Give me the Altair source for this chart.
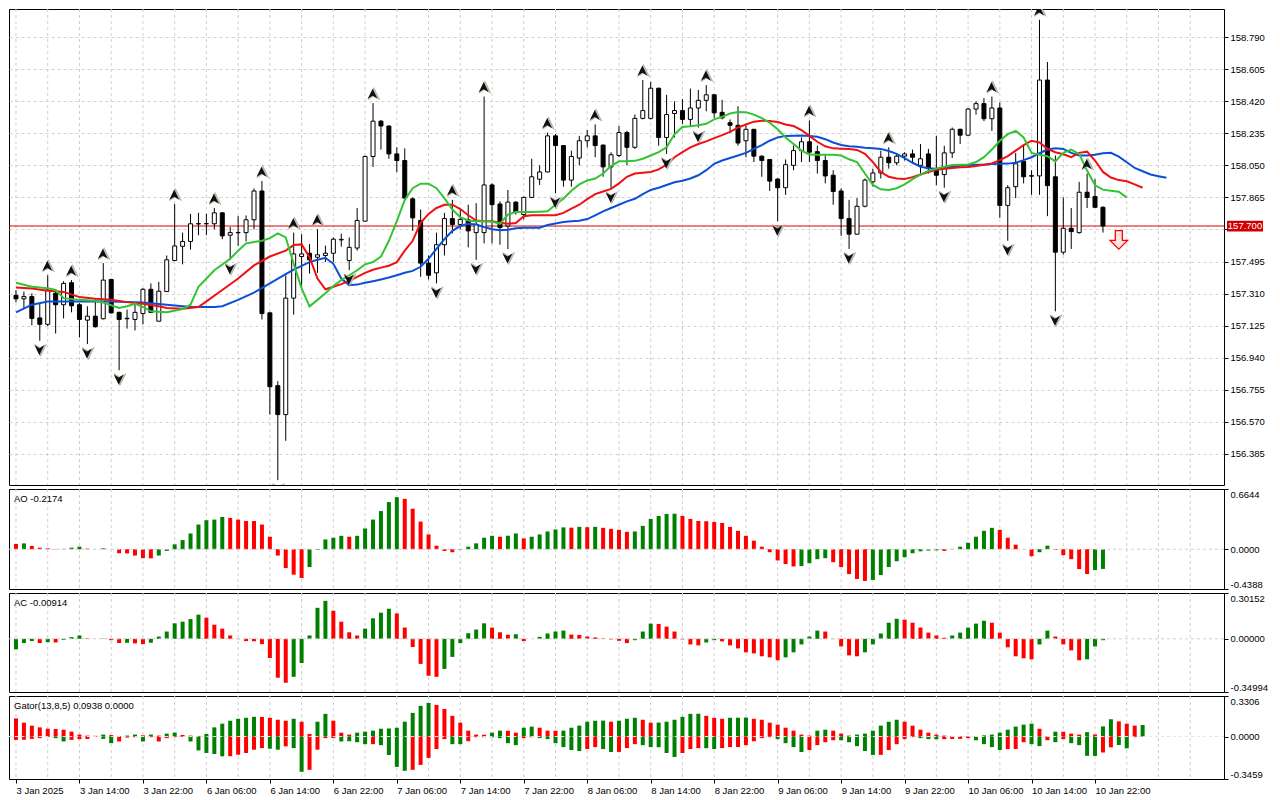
import json
import altair as alt
import pandas as pd

# ---------------- data (H1 bars, 3 Jan 06:00 .. 10 Jan 23:00) ----------------
OPEN = [157.300, 157.280, 157.293, 157.170, 157.133, 157.312, 157.246, 157.373, 157.246, 157.157,
        157.180, 157.165, 157.392, 157.202, 157.165, 157.161, 157.195, 157.335, 157.151, 157.322,
        157.501, 157.583, 157.611, 157.712, 157.713, 157.713, 157.776, 157.647, 157.661, 157.662,
        157.736, 157.902, 157.199, 156.779, 156.612, 157.284, 157.524, 157.543, 157.520, 157.530,
        157.543, 157.620, 157.501, 157.573, 157.728, 158.101, 158.305, 158.277, 158.116, 158.078,
        157.857, 157.732, 157.486, 157.430, 157.592, 157.743, 157.709, 157.736, 157.662, 157.662,
        157.937, 157.827, 157.700, 157.838, 157.766, 157.865, 157.970, 158.012, 158.220, 158.164,
        157.965, 158.092, 158.192, 158.220, 158.167, 158.041, 158.107, 158.239, 158.154, 158.321,
        158.321, 158.495, 158.211, 158.349, 158.366, 158.315, 158.381, 158.425, 158.457, 158.356,
        158.296, 158.281, 158.192, 158.258, 158.103, 158.084, 157.971, 157.921, 158.050, 158.135,
        158.186, 158.129, 158.078, 157.993, 157.902, 157.743, 157.653, 157.814, 157.955, 158.006,
        158.097, 158.065, 158.103, 158.116, 158.050, 158.116, 158.031, 157.997, 158.122, 158.258,
        158.224, 158.375, 158.406, 158.319, 158.381, 157.819, 157.927, 158.073, 157.990, 157.989,
        158.542, 157.984, 157.549, 157.687, 157.662, 157.895, 157.870, 157.808]
HIGH = [157.330, 157.322, 157.312, 157.255, 157.416, 157.331, 157.382, 157.388, 157.255, 157.237,
        157.284, 157.486, 157.395, 157.206, 157.218, 157.255, 157.342, 157.369, 157.378, 157.530,
        157.827, 157.662, 157.770, 157.776, 157.770, 157.804, 157.781, 157.694, 157.757, 157.761,
        157.917, 157.959, 157.205, 156.805, 157.416, 157.662, 157.653, 157.596, 157.681, 157.587,
        157.634, 157.656, 157.634, 157.804, 158.107, 158.409, 158.311, 158.281, 158.154, 158.148,
        157.865, 157.795, 157.530, 157.662, 157.776, 157.851, 157.795, 157.823, 157.832, 158.447,
        157.946, 157.842, 157.908, 157.842, 157.870, 158.088, 158.050, 158.239, 158.230, 158.166,
        158.135, 158.220, 158.254, 158.286, 158.170, 158.126, 158.277, 158.249, 158.343, 158.542,
        158.532, 158.498, 158.457, 158.419, 158.432, 158.493, 158.485, 158.513, 158.460, 158.428,
        158.315, 158.391, 158.281, 158.260, 158.107, 158.086, 157.975, 158.084, 158.164, 158.211,
        158.309, 158.164, 158.107, 158.022, 157.918, 157.851, 157.861, 157.974, 158.031, 158.135,
        158.154, 158.116, 158.126, 158.141, 158.173, 158.145, 158.220, 158.163, 158.268, 158.262,
        158.381, 158.419, 158.438, 158.447, 158.413, 157.936, 158.122, 158.164, 158.022, 158.890,
        158.646, 158.107, 157.865, 157.804, 157.955, 158.003, 157.971, 157.814]
LOW = [157.260, 157.227, 157.127, 157.038, 157.123, 157.080, 157.167, 157.202, 157.057, 157.019,
       157.114, 157.161, 157.195, 156.868, 157.108, 157.098, 157.132, 157.198, 157.151, 157.322,
       157.498, 157.479, 157.564, 157.647, 157.647, 157.681, 157.624, 157.505, 157.586, 157.611,
       157.681, 157.161, 156.612, 156.234, 156.461, 157.189, 157.350, 157.426, 157.430, 157.492,
       157.492, 157.581, 157.445, 157.558, 157.728, 158.041, 158.141, 158.088, 158.012, 157.857,
       157.672, 157.407, 157.392, 157.369, 157.530, 157.657, 157.681, 157.577, 157.505, 157.600,
       157.600, 157.592, 157.567, 157.766, 157.738, 157.861, 157.937, 158.010, 157.889, 157.927,
       157.927, 158.050, 158.154, 158.097, 157.984, 157.918, 158.097, 158.050, 158.145, 158.315,
       158.315, 158.164, 158.116, 158.211, 158.290, 158.277, 158.268, 158.362, 158.324, 158.315,
       158.239, 158.164, 158.097, 158.069, 157.984, 157.902, 157.728, 157.880, 158.022, 158.069,
       158.069, 158.003, 157.946, 157.823, 157.643, 157.568, 157.653, 157.808, 157.927, 157.974,
       158.031, 158.050, 158.078, 158.059, 158.003, 158.003, 157.936, 157.921, 158.092, 158.173,
       158.222, 158.343, 158.305, 158.249, 157.747, 157.615, 157.861, 157.946, 157.880, 157.880,
       157.757, 157.208, 157.535, 157.568, 157.656, 157.804, 157.804, 157.662]
CLOSE = [157.280, 157.293, 157.167, 157.133, 157.331, 157.246, 157.369, 157.240, 157.161, 157.180,
         157.119, 157.388, 157.199, 157.161, 157.168, 157.202, 157.335, 157.202, 157.324, 157.505,
         157.585, 157.611, 157.713, 157.714, 157.714, 157.776, 157.643, 157.662, 157.663, 157.736,
         157.902, 157.195, 156.773, 156.612, 157.284, 157.539, 157.539, 157.505, 157.534, 157.543,
         157.624, 157.623, 157.577, 157.732, 158.101, 158.305, 158.277, 158.116, 158.078, 157.861,
         157.747, 157.486, 157.416, 157.592, 157.743, 157.709, 157.738, 157.672, 157.709, 157.937,
         157.823, 157.691, 157.838, 157.781, 157.865, 157.984, 158.012, 158.220, 158.164, 157.965,
         158.101, 158.192, 158.220, 158.164, 158.041, 158.111, 158.239, 158.154, 158.321, 158.366,
         158.495, 158.211, 158.343, 158.366, 158.315, 158.381, 158.425, 158.457, 158.353, 158.324,
         158.281, 158.179, 158.258, 158.103, 158.078, 157.959, 157.921, 158.054, 158.135, 158.186,
         158.126, 158.078, 157.989, 157.899, 157.743, 157.653, 157.814, 157.965, 158.006, 158.097,
         158.065, 158.103, 158.116, 158.097, 158.088, 158.031, 157.993, 158.122, 158.258, 158.224,
         158.375, 158.406, 158.319, 158.381, 157.819, 157.921, 158.059, 157.984, 157.988, 158.542,
         157.933, 157.549, 157.687, 157.668, 157.895, 157.865, 157.808, 157.700]

# Alligator (bar index, value) - jaw shifted 8, teeth 5, lips 3 bars forward
JAW_X = [0, 2, 4, 8, 12, 16, 19, 22, 25, 26, 28, 30, 32, 34, 35, 36, 37, 38, 39, 40, 41, 42, 43, 44,
         45, 46, 47, 48, 49, 50, 51, 52, 53, 54, 55, 56, 57, 58, 59, 60, 61, 62, 63, 64, 66, 67, 68,
         69, 70, 71] + list(range(72, 146))
JAW_Y = [157.202, 157.246, 157.265, 157.265, 157.265, 157.259, 157.246, 157.233, 157.233, 157.237,
         157.274, 157.316, 157.369, 157.422, 157.448, 157.470, 157.492, 157.505, 157.517, 157.482,
         157.397, 157.359, 157.362, 157.373, 157.382, 157.392, 157.403, 157.416, 157.430, 157.441,
         157.465, 157.511, 157.568, 157.624, 157.672, 157.700, 157.713, 157.709, 157.694, 157.681,
         157.675, 157.679, 157.687, 157.690, 157.690, 157.706, 157.715, 157.723, 157.727, 157.730,
         157.740, 157.762, 157.785, 157.804, 157.823, 157.842, 157.857, 157.884, 157.908, 157.921,
         157.937, 157.952, 157.961, 157.974, 157.993, 158.022, 158.059, 158.078, 158.092, 158.107,
         158.122, 158.145, 158.167, 158.192, 158.211, 158.220, 158.221, 158.222, 158.220, 158.215,
         158.201, 158.182, 158.167, 158.160, 158.157, 158.152, 158.149, 158.145, 158.133, 158.116,
         158.092, 158.065, 158.042, 158.033, 158.031, 158.035, 158.042, 158.048, 158.051, 158.054,
         158.054, 158.058, 158.059, 158.060, 158.065, 158.080, 158.097, 158.120, 158.141, 158.148,
         158.145, 158.122, 158.107, 158.107, 158.111, 158.120, 158.122, 158.100, 158.068, 158.035,
         158.016, 157.997, 157.987, 157.978]
TEETH_X = [0, 2, 4, 6, 8, 10, 12, 14, 16, 18, 19, 21, 23, 24, 26, 28, 30, 32, 34, 35, 36, 37, 38,
           39, 40, 41, 42, 43, 44, 45, 46, 47, 48, 49, 50, 51, 52, 53, 54, 55, 56, 57, 58, 59, 60,
           61, 62, 63, 64, 65, 67, 68, 69, 70, 71] + list(range(72, 143))
TEETH_Y = [157.346, 157.339, 157.327, 157.320, 157.290, 157.280, 157.274, 157.261, 157.252, 157.237,
           157.227, 157.223, 157.233, 157.265, 157.331, 157.397, 157.473, 157.524, 157.558, 157.590,
           157.594, 157.520, 157.397, 157.335, 157.350, 157.365, 157.384, 157.407, 157.430, 157.448,
           157.460, 157.471, 157.492, 157.558, 157.615, 157.719, 157.770, 157.804, 157.823, 157.823,
           157.798, 157.762, 157.732, 157.728, 157.728, 157.719, 157.713, 157.717, 157.757, 157.762,
           157.762, 157.762, 157.776, 157.800, 157.823,
           157.855, 157.884, 157.899, 157.914, 157.946, 157.984, 158.003, 158.008, 158.012, 158.027,
           158.054, 158.097, 158.126, 158.154, 158.173, 158.188, 158.207, 158.224, 158.243, 158.268,
           158.286, 158.302, 158.307, 158.306, 158.300, 158.286, 158.277, 158.254, 158.220, 158.186,
           158.160, 158.148, 158.146, 158.144, 158.139, 158.116, 158.069, 158.012, 157.984, 157.974,
           157.972, 157.982, 157.997, 158.012, 158.024, 158.031, 158.035, 158.039, 158.041, 158.046,
           158.054, 158.061, 158.080, 158.103, 158.135, 158.167, 158.192, 158.182, 158.145, 158.126,
           158.114, 158.097, 158.122, 158.129, 158.078, 158.012, 157.980, 157.965, 157.958, 157.940,
           157.921]
LIPS_X = [0, 2, 4, 5, 6, 8, 10, 11, 13, 14, 15, 16, 17, 19, 21, 22, 23, 25, 27, 28, 29, 31, 32, 33,
          34, 35, 36, 37] + list(range(38, 141))
LIPS_Y = [157.373, 157.350, 157.341, 157.331, 157.284, 157.274, 157.269, 157.259, 157.227, 157.237,
          157.252, 157.233, 157.208, 157.202, 157.221, 157.246, 157.350, 157.445, 157.511, 157.558,
          157.600, 157.615, 157.630, 157.657, 157.634, 157.482, 157.340, 157.237,
          157.274, 157.312, 157.354, 157.388, 157.416, 157.445, 157.479, 157.492, 157.524, 157.615,
          157.728, 157.851, 157.918, 157.944, 157.944, 157.918, 157.861, 157.795, 157.751, 157.732,
          157.728, 157.728, 157.726, 157.713, 157.766, 157.781, 157.781, 157.781, 157.783, 157.785,
          157.823, 157.857, 157.903, 157.940, 157.963, 157.974, 158.003, 158.046, 158.073, 158.073,
          158.076, 158.088, 158.107, 158.126, 158.154, 158.230, 158.271, 158.275, 158.281, 158.290,
          158.315, 158.330, 158.349, 158.358, 158.357, 158.343, 158.322, 158.296, 158.258, 158.211,
          158.173, 158.135, 158.112, 158.111, 158.111, 158.111, 158.107, 158.085, 158.069, 158.003,
          157.937, 157.912, 157.908, 157.918, 157.940, 157.971, 157.997, 158.018, 158.031, 158.042,
          158.052, 158.054, 158.055, 158.069, 158.097, 158.141, 158.192, 158.230, 158.249, 158.211,
          158.122, 158.111, 158.103, 158.073, 158.122, 158.141, 158.116, 158.020, 157.935, 157.910,
          157.904, 157.898, 157.864]

FRACTAL_UP = [4, 7, 11, 20, 25, 31, 35, 38, 45, 55, 59, 67, 73, 79, 87, 100, 110, 123, 129, 135]
FRACTAL_DN = [3, 9, 13, 27, 33, 42, 53, 58, 62, 68, 75, 82, 86, 96, 105, 117, 125, 131]
SIGNAL_DN_X = [139]
SIGNAL_DN_Y = [157.620]

AO = [0.058, 0.064, 0.036, 0.017, 0.010, 0.003, 0.004, 0.017, 0.028, 0.007,
      0.001, 0.010, -0.001, -0.044, -0.046, -0.070, -0.099, -0.101, -0.070, -0.019,
      0.054, 0.101, 0.174, 0.272, 0.320, 0.327, 0.356, 0.345, 0.327, 0.312,
      0.311, 0.272, 0.138, -0.070, -0.208, -0.281, -0.317, -0.197, -0.008, 0.108,
      0.127, 0.148, 0.138, 0.148, 0.229, 0.327, 0.421, 0.520, 0.574, 0.556,
      0.447, 0.305, 0.163, 0.039, -0.019, -0.033, -0.008, 0.028, 0.065, 0.127,
      0.148, 0.138, 0.149, 0.174, 0.119, 0.138, 0.163, 0.196, 0.218, 0.241,
      0.238, 0.247, 0.243, 0.247, 0.236, 0.225, 0.214, 0.192, 0.196, 0.258,
      0.334, 0.367, 0.389, 0.392, 0.367, 0.334, 0.312, 0.309, 0.301, 0.290,
      0.247, 0.203, 0.148, 0.094, 0.028, -0.033, -0.124, -0.164, -0.190, -0.186,
      -0.154, -0.110, -0.099, -0.143, -0.197, -0.274, -0.328, -0.350, -0.339, -0.285,
      -0.197, -0.132, -0.088, -0.044, -0.023, -0.015, -0.012, -0.019, -0.004, 0.028,
      0.072, 0.138, 0.203, 0.236, 0.214, 0.127, 0.050, -0.001, -0.077, -0.033,
      0.039, -0.008, -0.066, -0.110, -0.219, -0.274, -0.230, -0.2174]
AO_FIRST = "r"
AC = [-0.069, -0.028, -0.015, -0.028, -0.022, -0.024, -0.007, 0.011, 0.022, 0.004,
      0.000, 0.002, -0.009, -0.028, -0.026, -0.030, -0.035, -0.026, 0.015, 0.048,
      0.102, 0.113, 0.130, 0.159, 0.139, 0.093, 0.067, 0.022, -0.002, -0.015,
      -0.016, -0.035, -0.126, -0.256, -0.289, -0.250, -0.159, 0.022, 0.204, 0.250,
      0.185, 0.113, 0.043, 0.022, 0.067, 0.135, 0.172, 0.198, 0.167, 0.074,
      -0.054, -0.165, -0.243, -0.250, -0.198, -0.119, -0.028, 0.037, 0.061, 0.102,
      0.074, 0.043, 0.027, 0.030, -0.015, 0.000, 0.013, 0.035, 0.048, 0.054,
      0.028, 0.026, 0.015, 0.009, 0.003, -0.004, -0.013, -0.028, -0.009, 0.048,
      0.100, 0.098, 0.080, 0.048, -0.004, -0.037, -0.043, -0.024, -0.009, -0.017,
      -0.043, -0.063, -0.089, -0.096, -0.115, -0.122, -0.141, -0.122, -0.089, -0.037,
      0.015, 0.054, 0.048, -0.002, -0.050, -0.109, -0.115, -0.089, -0.037, 0.035,
      0.106, 0.132, 0.126, 0.106, 0.074, 0.041, 0.022, 0.007, 0.022, 0.041,
      0.074, 0.100, 0.119, 0.106, 0.041, -0.056, -0.115, -0.128, -0.135, -0.037,
      0.054, 0.015, -0.037, -0.076, -0.141, -0.135, -0.050, -0.00914]
AC_FIRST = "g"
GATOR_UP = [0.148, 0.113, 0.089, 0.075, 0.064, 0.062, 0.056, 0.040, 0.016, 0.008,
            0.006, 0.016, 0.012, 0.005, 0.008, 0.016, 0.010, 0.016, 0.008, 0.024,
            0.032, 0.013, 0.008, 0.005, 0.021, 0.075, 0.105, 0.129, 0.145, 0.153,
            0.161, 0.160, 0.153, 0.137, 0.129, 0.145, 0.121, 0.021, 0.121, 0.185,
            0.129, 0.032, 0.016, 0.032, 0.040, 0.048, 0.064, 0.066, 0.072, 0.121,
            0.193, 0.250, 0.274, 0.258, 0.225, 0.169, 0.113, 0.048, 0.016, 0.015,
            0.032, 0.048, 0.047, 0.032, 0.072, 0.081, 0.072, 0.048, 0.047, 0.048,
            0.072, 0.089, 0.121, 0.129, 0.130, 0.121, 0.129, 0.145, 0.153, 0.137,
            0.113, 0.114, 0.121, 0.137, 0.161, 0.185, 0.186, 0.169, 0.153, 0.145,
            0.153, 0.154, 0.155, 0.145, 0.137, 0.113, 0.097, 0.072, 0.048, 0.016,
            0.008, 0.048, 0.056, 0.048, 0.024, 0.008, 0.016, 0.024, 0.048, 0.089,
            0.121, 0.137, 0.121, 0.089, 0.056, 0.032, 0.016, 0.008, 0.003, 0.002,
            0.001, 0.002, 0.010, 0.016, 0.032, 0.056, 0.081, 0.097, 0.105, 0.064,
            0.002, 0.040, 0.039, 0.024, 0.016, 0.036, 0.017, 0.083, 0.141, 0.124,
            0.105, 0.089, 0.0938]
GATOR_DN = [-0.027, -0.026, -0.019, -0.013, -0.004, -0.013, -0.040, -0.027, -0.021, -0.020,
            -0.002, -0.019, -0.054, -0.040, -0.008, -0.005, -0.040, -0.005, -0.040, -0.013,
            -0.005, -0.003, -0.040, -0.113, -0.134, -0.142, -0.161, -0.160, -0.148, -0.134,
            -0.107, -0.094, -0.099, -0.107, -0.080, -0.094, -0.287, -0.271, -0.107, -0.013,
            -0.012, -0.040, -0.038, -0.046, -0.062, -0.062, -0.070, -0.150, -0.247, -0.279,
            -0.271, -0.231, -0.174, -0.102, -0.021, -0.062, -0.062, -0.038, -0.005, -0.005,
            -0.006, -0.013, -0.054, -0.070, -0.013, -0.005, -0.013, -0.021, -0.054, -0.086,
            -0.110, -0.118, -0.102, -0.086, -0.102, -0.126, -0.125, -0.094, -0.062, -0.070,
            -0.086, -0.087, -0.134, -0.166, -0.134, -0.102, -0.094, -0.095, -0.102, -0.094,
            -0.086, -0.085, -0.070, -0.038, -0.013, -0.005, -0.021, -0.054, -0.086, -0.126,
            -0.110, -0.070, -0.046, -0.030, -0.030, -0.046, -0.078, -0.118, -0.150, -0.149,
            -0.110, -0.062, -0.021, -0.005, -0.013, -0.021, -0.022, -0.021, -0.020, -0.019,
            -0.013, -0.030, -0.062, -0.086, -0.110, -0.102, -0.101, -0.046, -0.062, -0.078,
            -0.030, -0.046, -0.021, -0.054, -0.070, -0.157, -0.158, -0.130, -0.088, -0.069,
            -0.096, -0.005, 0.0]
GATOR_UP_COL = ("rrrrrrrrrr" "rgrrggrgrg" "grrrgggggg" "grrrrgrrgg" "rrrggggggg" "gggrrrrrrr"
                "ggrrggrrrg" "gggggrgggr" "rggggggrrr" "gggrrrrrrr" "rggrrrgggg" "ggrrrrrrrr"
                "rggggggggr" "rgrrrgrggr" "rrg")
GATOR_DN_COL = ("rrrrgggrrr" "rggrrrgrrr" "rrgggggrrr" "rrggrggrrr" "rggggrgggg" "rrrrrggrrr"
                "ggggrrgggg" "ggrrggrrrg" "ggggrrrggr" "rrrrrrgggg" "rrrrgggggr" "rrrrgggrrr"
                "rggggrrrgg" "rgrggggrrg" "grr")

PRICE_TICKS = [156.385, 156.570, 156.755, 156.940, 157.125, 157.310, 157.495, 157.680,
               157.865, 158.050, 158.235, 158.420, 158.605, 158.790]
PRICE_DOMAIN = [156.206, 158.952]
AO_DOMAIN = [-0.4388, 0.6644]
AC_DOMAIN = [-0.34994, 0.30152]
GATOR_DOMAIN = [-0.3459, 0.3306]
TIME_LABELS = ["3 Jan 2025", "3 Jan 14:00", "3 Jan 22:00", "6 Jan 06:00", "6 Jan 14:00",
               "6 Jan 22:00", "7 Jan 06:00", "7 Jan 14:00", "7 Jan 22:00", "8 Jan 06:00",
               "8 Jan 14:00", "8 Jan 22:00", "9 Jan 06:00", "9 Jan 14:00", "9 Jan 22:00",
               "10 Jan 06:00", "10 Jan 14:00", "10 Jan 22:00"]

# ---------------- styling / layout ----------------
W = 1215
H_MAIN, H_AO, H_AC, H_GT = 476, 100, 99, 83
FONT = "Liberation Sans"
FS = 9.5
GRID = "#d0d0d0"
GREEN = "#008000"
RED = "#ff0000"
CMAP = {"g": GREEN, "r": RED}

X0 = -0.25
X1 = X0 + W / 8.0
XS = alt.Scale(domain=[X0, X1], nice=False, zero=False)
grid_df = pd.DataFrame({"i": list(range(0, int(X1) + 1, 4))})
MINUS_FIX = "replace(datum.label, '\u2212', '-')"


def xq(axis=None):
    return alt.X("i:Q", scale=XS, axis=axis, title=None)


def vgrid(axis=None):
    return alt.Chart(grid_df).mark_rule(color=GRID, strokeDash=[3, 3], strokeWidth=1).encode(x=xq(axis))


def right_axis(values, fmt, flush=False, grid=False, label_expr=MINUS_FIX):
    return alt.Axis(orient="right", values=values, format=fmt, labelExpr=label_expr,
                    labelFlush=flush, grid=grid, gridColor=GRID, gridDash=[3, 3],
                    domain=False, ticks=True, tickSize=4, tickColor="black",
                    labelColor="black", labelFont=FONT, labelFontSize=FS, labelPadding=2,
                    title=None)


TIME_TICKS = [8 * k for k in range(len(TIME_LABELS))]
AXT = alt.Axis(orient="bottom", values=TIME_TICKS,
               labelExpr=json.dumps(TIME_LABELS) + "[round(datum.value / 8)]",
               labelAlign="left", labelBaseline="top", labelPadding=2, tickSize=4,
               tickColor="black", domain=False, grid=False, labelFont=FONT,
               labelFontSize=FS, labelColor="black", labelOverlap=False, labelFlush=False,
               title=None)

# ---------------- main price panel ----------------
YM = alt.Scale(domain=PRICE_DOMAIN, nice=False, zero=False)
# the tick label hidden behind the last-price box is left blank (tick and grid stay)
AXM = right_axis(PRICE_TICKS, ".3f", grid=True,
                 label_expr=f"abs(datum.value - {CLOSE[-1]}) < 0.03 ? '' : datum.label")


def ym(field):
    return alt.Y(field, scale=YM, axis=AXM, title=None)


n = len(CLOSE)
candles = pd.DataFrame({"i": list(range(n)), "o": OPEN, "h": HIGH, "l": LOW, "c": CLOSE})
candles["fill"] = ["#ffffff" if c >= o else "#000000" for o, c in zip(OPEN, CLOSE)]

wicks = alt.Chart(candles).mark_rule(color="black", strokeWidth=1).encode(
    x=xq(), y=ym("l:Q"), y2="h:Q")
bodies = alt.Chart(candles).mark_bar(size=4, stroke="black", strokeWidth=1).encode(
    x=xq(), y=ym("o:Q"), y2="c:Q", fill=alt.Fill("fill:N", scale=None))


def aline(xs, ys, color):
    df = pd.DataFrame({"i": xs, "v": ys})
    return alt.Chart(df).mark_line(color=color, strokeWidth=2, clip=True).encode(x=xq(), y=ym("v:Q"))


jaw = aline(JAW_X, JAW_Y, "#0b4fd8")
teeth = aline(TEETH_X, TEETH_Y, "#f01010")
lips = aline(LIPS_X, LIPS_Y, "#33c433")

UP_PATH = "M0,-1L0.9,0.85L0,0.3L-0.9,0.85Z"
DN_PATH = "M0,1L0.9,-0.85L0,-0.3L-0.9,-0.85Z"
fu_df = pd.DataFrame({"i": FRACTAL_UP, "v": [HIGH[k] for k in FRACTAL_UP]})
fd_df = pd.DataFrame({"i": FRACTAL_DN, "v": [LOW[k] for k in FRACTAL_DN]})


def fractal_layers(df, path, dy):
    halo = alt.Chart(df).mark_point(shape=path, size=170, filled=True, fill="#a8c4dc",
                                    stroke="#c8a060", strokeWidth=0.6, opacity=1,
                                    yOffset=dy, xOffset=0.8, clip=True).encode(x=xq(), y=ym("v:Q"))
    core = alt.Chart(df).mark_point(shape=path, size=120, filled=True, fill="#101010",
                                    opacity=1, yOffset=dy, xOffset=-0.4,
                                    clip=True).encode(x=xq(), y=ym("v:Q"))
    return [halo, core]


frac = fractal_layers(fu_df, UP_PATH, -9) + fractal_layers(fd_df, DN_PATH, 9)

ARROW = "M-0.38,-1L0.38,-1L0.38,0.05L0.95,0.05L0,1L-0.95,0.05L-0.38,0.05Z"
sig_df = pd.DataFrame({"i": SIGNAL_DN_X, "v": SIGNAL_DN_Y})
signal = alt.Chart(sig_df).mark_point(shape=ARROW, size=340, filled=True, fill="#ffe4e4",
                                      stroke="#ff0000", strokeWidth=1.3, opacity=1).encode(
    x=xq(), y=ym("v:Q"))

last_df = pd.DataFrame({"v": [CLOSE[-1]], "t": [f"{CLOSE[-1]:.3f}"]})
price_line = alt.Chart(last_df).mark_rule(color="#e00000", strokeWidth=1).encode(y=ym("v:Q"))
BOX = "M-1,-0.3L1,-0.3L1,0.3L-1,0.3Z"
price_box = alt.Chart(last_df).mark_point(shape=BOX, size=1296, filled=True, color="#d00000",
                                          opacity=1).encode(x=alt.value(W + 21), y=ym("v:Q"))
price_txt = alt.Chart(last_df).mark_text(color="white", font=FONT, fontSize=FS, align="center",
                                         baseline="middle").encode(
    x=alt.value(W + 21), y=ym("v:Q"), text="t:N")

main = alt.layer(vgrid(), price_line, wicks, bodies, jaw, teeth, lips, *frac,
                 signal, price_box, price_txt).properties(width=W, height=H_MAIN)


# ---------------- oscillator panels ----------------
def rising_colors(vals, first):
    cols = [CMAP[first]]
    for k in range(1, len(vals)):
        cols.append(GREEN if vals[k] > vals[k - 1] else RED)
    return cols


def panel_label(text):
    return alt.Chart(pd.DataFrame({"t": [text]})).mark_text(
        align="left", baseline="top", font=FONT, fontSize=FS, color="black").encode(
        x=alt.value(5), y=alt.value(5), text="t:N")


def osc_panel(vals, cols, domain, fmt, label, height):
    ys = alt.Scale(domain=domain, nice=False, zero=False)
    ax = right_axis([domain[0], 0, domain[1]], fmt, flush=True)
    df = pd.DataFrame({"i": list(range(len(vals))), "v": vals, "col": cols})
    bars = alt.Chart(df).mark_bar(size=4).encode(
        x=xq(), y=alt.Y("v:Q", scale=ys, axis=ax, title=None), y2=alt.datum(0),
        color=alt.Color("col:N", scale=None))
    zero = alt.Chart(pd.DataFrame({"z": [0]})).mark_rule(color=GRID, strokeDash=[3, 3]).encode(
        y=alt.Y("z:Q", scale=ys, axis=ax, title=None))
    return alt.layer(vgrid(), bars, zero, panel_label(label)).properties(width=W, height=height)


ao = osc_panel(AO, rising_colors(AO, AO_FIRST), AO_DOMAIN, ".4f", f"AO {AO[-1]:.4f}", H_AO)
ac = osc_panel(AC, rising_colors(AC, AC_FIRST), AC_DOMAIN, ".5f", f"AC {AC[-1]:.5f}", H_AC)

YG = alt.Scale(domain=GATOR_DOMAIN, nice=False, zero=False)
AXG = right_axis([GATOR_DOMAIN[0], 0, GATOR_DOMAIN[1]], ".4f", flush=True)
gu_df = pd.DataFrame({"i": list(range(len(GATOR_UP))), "v": GATOR_UP,
                      "col": [CMAP[c] for c in GATOR_UP_COL]})
gd_df = pd.DataFrame({"i": list(range(len(GATOR_DN))), "v": GATOR_DN,
                      "col": [CMAP[c] for c in GATOR_DN_COL]})
g_up = alt.Chart(gu_df).mark_bar(size=4).encode(
    x=xq(AXT), y=alt.Y("v:Q", scale=YG, axis=AXG, title=None), y2=alt.datum(0),
    color=alt.Color("col:N", scale=None))
g_dn = alt.Chart(gd_df).mark_bar(size=4).encode(
    x=xq(AXT), y=alt.Y("v:Q", scale=YG, axis=AXG, title=None), y2=alt.datum(0),
    color=alt.Color("col:N", scale=None))
g_zero = alt.Chart(pd.DataFrame({"z": [0]})).mark_rule(color="#e4e4e4", strokeDash=[3, 3]).encode(
    y=alt.Y("z:Q", scale=YG, axis=AXG, title=None))
gator_label = f"Gator(13,8,5) {GATOR_UP[-1]:.4f} {abs(GATOR_DN[-1]):.4f}"
gator = alt.layer(vgrid(AXT), g_up, g_dn, g_zero, panel_label(gator_label)).properties(
    width=W, height=H_GT)

chart = alt.vconcat(main, ao, ac, gator, spacing=2).resolve_scale(
    x="independent", y="independent").properties(
    padding={"left": 0, "top": 0, "right": 0, "bottom": 0}, background="white").configure_view(
    stroke="black", strokeWidth=1)

chart.save("out.html", embed_options={"renderer": "svg", "actions": False})
